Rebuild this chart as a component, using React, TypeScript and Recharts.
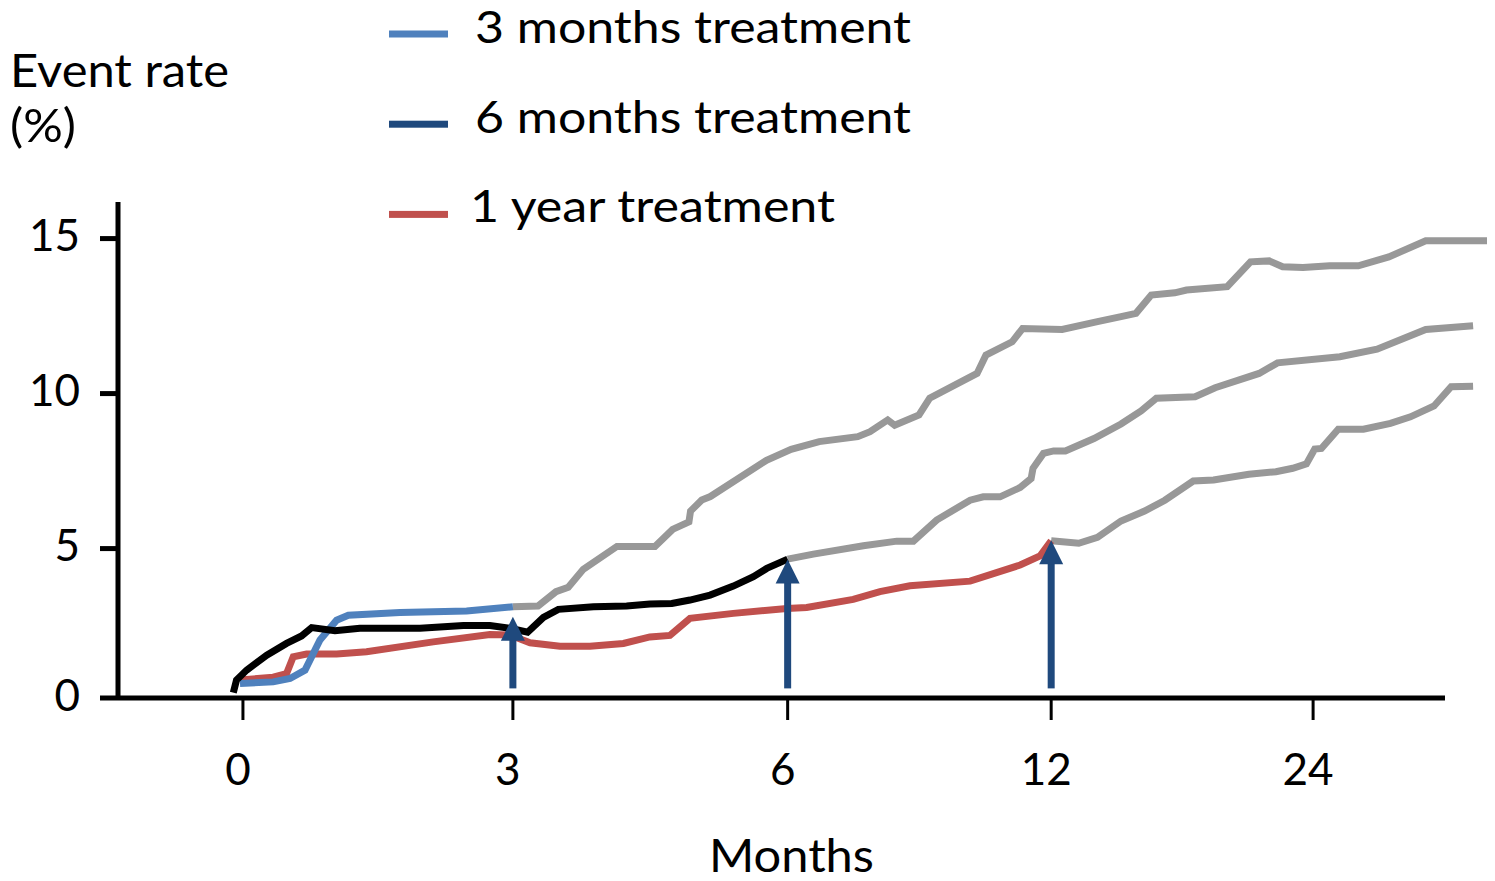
import { LineChart, Line, XAxis, YAxis, ReferenceLine } from "recharts";

// x is the position along the axis: the ticks 0, 3, 6, 12 and 24 months are
// drawn (almost) evenly spaced, so data is kept in axis-position units
const X_TICKS = [0, 1.009, 2.036, 3.021, 4];
const X_TICK_LABELS = ["0", "3", "6", "12", "24"];
const X_MIN = -0.467;
const X_MAX = 4.65;
const X_AXIS_END = 4.493;

const Y_BASE = 0.18;
const Y_TOP = 16.18;
const Y_TICKS = [Y_BASE, 5, 10, 15];

const threeMonths = [
  { x: -0.011, y: 0.65 },
  { x: 0.113, y: 0.7 },
  { x: 0.176, y: 0.81 },
  { x: 0.232, y: 1.08 },
  { x: 0.288, y: 2.05 },
  { x: 0.35, y: 2.69 },
  { x: 0.394, y: 2.85 },
  { x: 0.587, y: 2.94 },
  { x: 0.836, y: 2.99 },
  { x: 1.009, y: 3.12 },
];

const sixMonths = [
  { x: -0.036, y: 0.35 },
  { x: -0.024, y: 0.76 },
  { x: 0.014, y: 1.08 },
  { x: 0.089, y: 1.56 },
  { x: 0.163, y: 1.94 },
  { x: 0.219, y: 2.18 },
  { x: 0.257, y: 2.45 },
  { x: 0.344, y: 2.35 },
  { x: 0.437, y: 2.43 },
  { x: 0.662, y: 2.43 },
  { x: 0.824, y: 2.52 },
  { x: 0.923, y: 2.52 },
  { x: 0.998, y: 2.43 },
  { x: 1.064, y: 2.3 },
  { x: 1.123, y: 2.78 },
  { x: 1.179, y: 3.04 },
  { x: 1.31, y: 3.12 },
  { x: 1.434, y: 3.15 },
  { x: 1.521, y: 3.21 },
  { x: 1.603, y: 3.23 },
  { x: 1.671, y: 3.34 },
  { x: 1.746, y: 3.5 },
  { x: 1.833, y: 3.79 },
  { x: 1.908, y: 4.09 },
  { x: 1.958, y: 4.36 },
  { x: 2.036, y: 4.66 },
];

const oneYear = [
  { x: -0.011, y: 0.76 },
  { x: 0.113, y: 0.85 },
  { x: 0.163, y: 0.97 },
  { x: 0.188, y: 1.51 },
  { x: 0.238, y: 1.6 },
  { x: 0.35, y: 1.6 },
  { x: 0.462, y: 1.67 },
  { x: 0.711, y: 1.99 },
  { x: 0.923, y: 2.23 },
  { x: 0.998, y: 2.21 },
  { x: 1.073, y: 1.96 },
  { x: 1.185, y: 1.85 },
  { x: 1.297, y: 1.85 },
  { x: 1.422, y: 1.94 },
  { x: 1.521, y: 2.15 },
  { x: 1.596, y: 2.2 },
  { x: 1.671, y: 2.75 },
  { x: 1.833, y: 2.91 },
  { x: 2.033, y: 3.07 },
  { x: 2.107, y: 3.1 },
  { x: 2.281, y: 3.36 },
  { x: 2.381, y: 3.61 },
  { x: 2.493, y: 3.8 },
  { x: 2.718, y: 3.95 },
  { x: 2.905, y: 4.47 },
  { x: 2.979, y: 4.76 },
  { x: 3.021, y: 5.25 },
];

// grey continuations after each treatment stops
const afterThree = [
  { x: 1.009, y: 3.12 },
  { x: 1.103, y: 3.15 },
  { x: 1.17, y: 3.61 },
  { x: 1.216, y: 3.75 },
  { x: 1.272, y: 4.33 },
  { x: 1.398, y: 5.07 },
  { x: 1.54, y: 5.07 },
  { x: 1.606, y: 5.62 },
  { x: 1.667, y: 5.86 },
  { x: 1.673, y: 6.21 },
  { x: 1.715, y: 6.57 },
  { x: 1.747, y: 6.68 },
  { x: 1.957, y: 7.85 },
  { x: 2.049, y: 8.2 },
  { x: 2.154, y: 8.45 },
  { x: 2.298, y: 8.61 },
  { x: 2.344, y: 8.77 },
  { x: 2.41, y: 9.15 },
  { x: 2.436, y: 8.98 },
  { x: 2.527, y: 9.31 },
  { x: 2.567, y: 9.85 },
  { x: 2.744, y: 10.65 },
  { x: 2.777, y: 11.24 },
  { x: 2.875, y: 11.67 },
  { x: 2.914, y: 12.1 },
  { x: 3.062, y: 12.07 },
  { x: 3.194, y: 12.32 },
  { x: 3.282, y: 12.48 },
  { x: 3.338, y: 12.59 },
  { x: 3.395, y: 13.18 },
  { x: 3.483, y: 13.25 },
  { x: 3.527, y: 13.34 },
  { x: 3.679, y: 13.45 },
  { x: 3.766, y: 14.25 },
  { x: 3.836, y: 14.28 },
  { x: 3.886, y: 14.09 },
  { x: 3.962, y: 14.07 },
  { x: 4.062, y: 14.12 },
  { x: 4.169, y: 14.12 },
  { x: 4.283, y: 14.41 },
  { x: 4.421, y: 14.93 },
  { x: 4.65, y: 14.93 },
];

const afterSix = [
  { x: 2.036, y: 4.66 },
  { x: 2.132, y: 4.82 },
  { x: 2.319, y: 5.09 },
  { x: 2.444, y: 5.24 },
  { x: 2.506, y: 5.24 },
  { x: 2.593, y: 5.92 },
  { x: 2.718, y: 6.56 },
  { x: 2.767, y: 6.67 },
  { x: 2.83, y: 6.67 },
  { x: 2.905, y: 6.97 },
  { x: 2.946, y: 7.26 },
  { x: 2.953, y: 7.59 },
  { x: 2.992, y: 8.07 },
  { x: 3.03, y: 8.15 },
  { x: 3.074, y: 8.15 },
  { x: 3.181, y: 8.55 },
  { x: 3.282, y: 9.02 },
  { x: 3.357, y: 9.44 },
  { x: 3.414, y: 9.85 },
  { x: 3.559, y: 9.9 },
  { x: 3.634, y: 10.19 },
  { x: 3.798, y: 10.65 },
  { x: 3.867, y: 10.99 },
  { x: 4.1, y: 11.19 },
  { x: 4.239, y: 11.43 },
  { x: 4.421, y: 12.07 },
  { x: 4.598, y: 12.19 },
];

const afterYear = [
  { x: 3.021, y: 5.25 },
  { x: 3.124, y: 5.17 },
  { x: 3.194, y: 5.36 },
  { x: 3.282, y: 5.89 },
  { x: 3.37, y: 6.21 },
  { x: 3.446, y: 6.56 },
  { x: 3.552, y: 7.18 },
  { x: 3.628, y: 7.21 },
  { x: 3.76, y: 7.4 },
  { x: 3.861, y: 7.48 },
  { x: 3.924, y: 7.59 },
  { x: 3.975, y: 7.73 },
  { x: 4.006, y: 8.21 },
  { x: 4.031, y: 8.23 },
  { x: 4.094, y: 8.85 },
  { x: 4.188, y: 8.85 },
  { x: 4.289, y: 9.04 },
  { x: 4.364, y: 9.25 },
  { x: 4.452, y: 9.6 },
  { x: 4.516, y: 10.22 },
  { x: 4.598, y: 10.24 },
];

// arrows mark the end of each treatment
const ARROW_X = [1.009, 2.036, 3.021];
const ARROW_FROM = [0.49, 0.49, 0.49];
const ARROW_TO = [2.8, 4.65, 5.27];

const LEGEND_LABELS = ["3 months treatment", "6 months treatment", "1 year treatment"];
const LEGEND_COLORS = ["#4F81BD", "#1F497D", "#C0504D"];

const FONT = "Lato, 'Open Sans', sans-serif";
const GREY = "#989898";
const ARROW = "#1F497D";

function Arrow(props: any) {
  const { x1, y1, x2, y2 } = props;
  const x = (x1 + x2) / 2;
  const top = Math.min(y1, y2);
  const bottom = Math.max(y1, y2);
  const headH = 24;
  const headW = 24;
  return (
    <g>
      <rect x={x - 3.5} y={top + headH - 1} width={7} height={bottom - top - headH + 1} fill={ARROW} />
      <polygon
        points={`${x},${top} ${x - headW / 2},${top + headH} ${x + headW / 2},${top + headH}`}
        fill={ARROW}
      />
    </g>
  );
}

function YTitle() {
  return (
    <g fontFamily={FONT} fontSize={47} fill="#000">
      <text x={10} y={87} textLength={219} lengthAdjust="spacingAndGlyphs">
        Event rate
      </text>
      <text x={10} y={142} textLength={66} lengthAdjust="spacingAndGlyphs">
        (%)
      </text>
    </g>
  );
}

function XTitle() {
  return (
    <text
      x={709}
      y={872}
      fontFamily={FONT}
      fontSize={47}
      fill="#000"
      textLength={165}
      lengthAdjust="spacingAndGlyphs"
    >
      Months
    </text>
  );
}

const LEGEND_X = [475, 475, 470];
const LEGEND_W = [436, 436, 365];

export default function App() {
  return (
    <div style={{ position: "absolute", left: 0, top: 0, width: 1495, height: 881, background: "#fff" }}>
      <LineChart
        width={1495}
        height={881}
        margin={{ top: 202, right: 8, bottom: 33, left: 18 }}
      >
        <XAxis
          type="number"
          dataKey="x"
          domain={[X_MIN, X_MAX]}
          ticks={X_TICKS}
          tickFormatter={(v: number) => X_TICK_LABELS[X_TICKS.indexOf(v)] ?? ""}
          axisLine={false}
          tickLine={{ stroke: "#000", strokeWidth: 3 }}
          tickSize={22}
          tickMargin={34}
          height={150}
          tick={{ fill: "#000", fontSize: 44, fontFamily: FONT, dx: -5 }}
          allowDataOverflow
          label={<XTitle />}
        />
        <YAxis
          type="number"
          domain={[Y_BASE, Y_TOP]}
          ticks={Y_TICKS}
          tickFormatter={(v: number) => String(Math.round(v))}
          axisLine={{ stroke: "#000", strokeWidth: 5 }}
          tickLine={{ stroke: "#000", strokeWidth: 5 }}
          tickSize={18}
          tickMargin={20}
          width={100}
          tick={{ fill: "#000", fontSize: 44, fontFamily: FONT, dy: -3 }}
          allowDataOverflow
          label={<YTitle />}
        />
        <ReferenceLine
          segment={[
            { x: X_MIN, y: Y_BASE },
            { x: X_AXIS_END, y: Y_BASE },
          ]}
          stroke="#000"
          strokeWidth={5}
          ifOverflow="visible"
        />
        <Line data={afterThree} dataKey="y" stroke={GREY} strokeWidth={7} dot={false} isAnimationActive={false} />
        <Line data={afterSix} dataKey="y" stroke={GREY} strokeWidth={7} dot={false} isAnimationActive={false} />
        <Line data={afterYear} dataKey="y" stroke={GREY} strokeWidth={7} dot={false} isAnimationActive={false} />
        <Line data={oneYear} dataKey="y" stroke="#C0504D" strokeWidth={7} dot={false} isAnimationActive={false} />
        <Line data={threeMonths} dataKey="y" stroke="#4F81BD" strokeWidth={7} dot={false} isAnimationActive={false} />
        <Line data={sixMonths} dataKey="y" stroke="#000" strokeWidth={7} dot={false} isAnimationActive={false} />
        {ARROW_X.map((x, i) => (
          <ReferenceLine
            key={i}
            segment={[
              { x, y: ARROW_FROM[i] },
              { x, y: ARROW_TO[i] },
            ]}
            stroke={ARROW}
            ifOverflow="visible"
            shape={Arrow}
          />
        ))}
      </LineChart>
      <svg
        width={960}
        height={240}
        style={{ position: "absolute", left: 0, top: 0, pointerEvents: "none" }}
      >
        {LEGEND_LABELS.map((label, i) => (
          <g key={label}>
            <rect x={389} y={30.5 + i * 90.2} width={59} height={7} fill={LEGEND_COLORS[i]} />
            <text
              x={LEGEND_X[i]}
              y={43 + i * 89.5}
              fontFamily={FONT}
              fontSize={45}
              fill="#000"
              textLength={LEGEND_W[i]}
              lengthAdjust="spacingAndGlyphs"
            >
              {label}
            </text>
          </g>
        ))}
      </svg>
    </div>
  );
}
